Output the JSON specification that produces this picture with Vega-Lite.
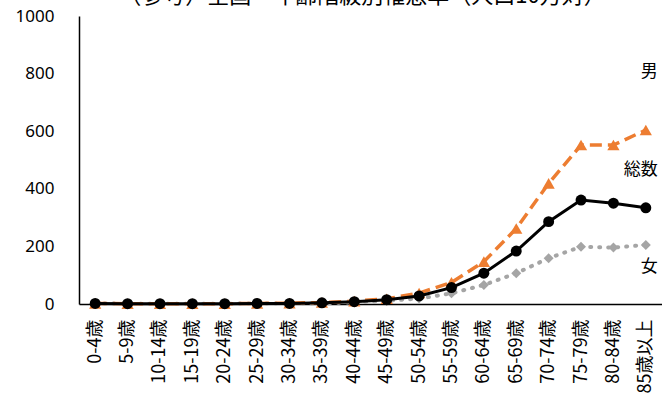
{
  "$schema": "https://vega.github.io/schema/vega-lite/v6.json",
  "autosize": {"type": "none"},
  "padding": {"left": 79, "top": 16, "right": 0, "bottom": 101},
  "width": 583,
  "height": 288,
  "background": "white",
  "title": {
    "text": "（参考）全国　年齢階級別罹患率（人口10万対）",
    "font": "Noto Sans CJK JP",
    "fontSize": 22,
    "fontWeight": "normal",
    "color": "#000000",
    "baseline": "bottom",
    "offset": -23,
    "dx": -8
  },
  "config": {
    "view": {"stroke": null},
    "font": "Noto Sans CJK JP"
  },
  "data": {
    "values": [
      {"age": "0-4歳", "series": "総数", "value": 2},
      {"age": "5-9歳", "series": "総数", "value": 1},
      {"age": "10-14歳", "series": "総数", "value": 1},
      {"age": "15-19歳", "series": "総数", "value": 1},
      {"age": "20-24歳", "series": "総数", "value": 1},
      {"age": "25-29歳", "series": "総数", "value": 2},
      {"age": "30-34歳", "series": "総数", "value": 2},
      {"age": "35-39歳", "series": "総数", "value": 4},
      {"age": "40-44歳", "series": "総数", "value": 8},
      {"age": "45-49歳", "series": "総数", "value": 15},
      {"age": "50-54歳", "series": "総数", "value": 28},
      {"age": "55-59歳", "series": "総数", "value": 57},
      {"age": "60-64歳", "series": "総数", "value": 107},
      {"age": "65-69歳", "series": "総数", "value": 184},
      {"age": "70-74歳", "series": "総数", "value": 286},
      {"age": "75-79歳", "series": "総数", "value": 361},
      {"age": "80-84歳", "series": "総数", "value": 350},
      {"age": "85歳以上", "series": "総数", "value": 334},
      {"age": "0-4歳", "series": "男", "value": 2},
      {"age": "5-9歳", "series": "男", "value": 1},
      {"age": "10-14歳", "series": "男", "value": 1},
      {"age": "15-19歳", "series": "男", "value": 1},
      {"age": "20-24歳", "series": "男", "value": 1},
      {"age": "25-29歳", "series": "男", "value": 2},
      {"age": "30-34歳", "series": "男", "value": 3},
      {"age": "35-39歳", "series": "男", "value": 5},
      {"age": "40-44歳", "series": "男", "value": 10},
      {"age": "45-49歳", "series": "男", "value": 18},
      {"age": "50-54歳", "series": "男", "value": 38},
      {"age": "55-59歳", "series": "男", "value": 75},
      {"age": "60-64歳", "series": "男", "value": 147},
      {"age": "65-69歳", "series": "男", "value": 262},
      {"age": "70-74歳", "series": "男", "value": 419},
      {"age": "75-79歳", "series": "男", "value": 552},
      {"age": "80-84歳", "series": "男", "value": 552},
      {"age": "85歳以上", "series": "男", "value": 604},
      {"age": "0-4歳", "series": "女", "value": 2},
      {"age": "5-9歳", "series": "女", "value": 1},
      {"age": "10-14歳", "series": "女", "value": 1},
      {"age": "15-19歳", "series": "女", "value": 1},
      {"age": "20-24歳", "series": "女", "value": 1},
      {"age": "25-29歳", "series": "女", "value": 2},
      {"age": "30-34歳", "series": "女", "value": 2},
      {"age": "35-39歳", "series": "女", "value": 3},
      {"age": "40-44歳", "series": "女", "value": 6},
      {"age": "45-49歳", "series": "女", "value": 11},
      {"age": "50-54歳", "series": "女", "value": 19},
      {"age": "55-59歳", "series": "女", "value": 37},
      {"age": "60-64歳", "series": "女", "value": 66},
      {"age": "65-69歳", "series": "女", "value": 107},
      {"age": "70-74歳", "series": "女", "value": 159},
      {"age": "75-79歳", "series": "女", "value": 199},
      {"age": "80-84歳", "series": "女", "value": 196},
      {"age": "85歳以上", "series": "女", "value": 205}
    ]
  },
  "encoding": {
    "x": {
      "field": "age",
      "type": "ordinal",
      "sort": null,
      "scale": {"type": "point", "padding": 0.5},
      "axis": {
        "title": null,
        "labelAngle": -90,
        "labelFontSize": 18,
        "labelColor": "#000000",
        "labelPadding": 15,
        "ticks": false,
        "domainColor": "#000000",
        "domainWidth": 1.5,
        "grid": false
      }
    },
    "y": {
      "field": "value",
      "type": "quantitative",
      "scale": {"domain": [0, 1000], "nice": false},
      "axis": {
        "title": null,
        "values": [0, 200, 400, 600, 800, 1000],
        "format": "d",
        "labelFontSize": 17,
        "labelColor": "#000000",
        "labelPadding": 25,
        "labelFont": "Noto Sans",
        "ticks": false,
        "domainColor": "#000000",
        "domainWidth": 1.5,
        "grid": false
      }
    }
  },
  "layer": [
    {
      "transform": [{"filter": "datum.series === '女'"}],
      "mark": {"type": "line", "color": "#A5A5A5", "strokeWidth": 4, "strokeDash": [1, 8], "strokeCap": "round"}
    },
    {
      "transform": [{"filter": "datum.series === '女'"}],
      "mark": {"type": "point", "shape": "diamond", "filled": true, "color": "#A5A5A5", "size": 100, "opacity": 1}
    },
    {
      "transform": [{"filter": "datum.series === '男'"}],
      "mark": {"type": "line", "color": "#ED7D31", "strokeWidth": 3.5, "strokeDash": [12, 6]}
    },
    {
      "transform": [{"filter": "datum.series === '男'"}],
      "mark": {"type": "point", "shape": "triangle-up", "filled": true, "color": "#ED7D31", "size": 150, "opacity": 1}
    },
    {
      "transform": [{"filter": "datum.series === '総数'"}],
      "mark": {"type": "line", "color": "#000000", "strokeWidth": 3}
    },
    {
      "transform": [{"filter": "datum.series === '総数'"}],
      "mark": {"type": "point", "shape": "circle", "filled": true, "color": "#000000", "size": 120, "opacity": 1}
    },
    {
      "data": {
        "values": [
          {"age": "85歳以上", "label": "男", "value": 805},
          {"age": "85歳以上", "label": "総数", "value": 465},
          {"age": "85歳以上", "label": "女", "value": 127}
        ]
      },
      "mark": {"type": "text", "align": "right", "baseline": "middle", "dx": 12, "fontSize": 17, "color": "#000000"},
      "encoding": {
        "text": {"field": "label"}
      }
    }
  ]
}
